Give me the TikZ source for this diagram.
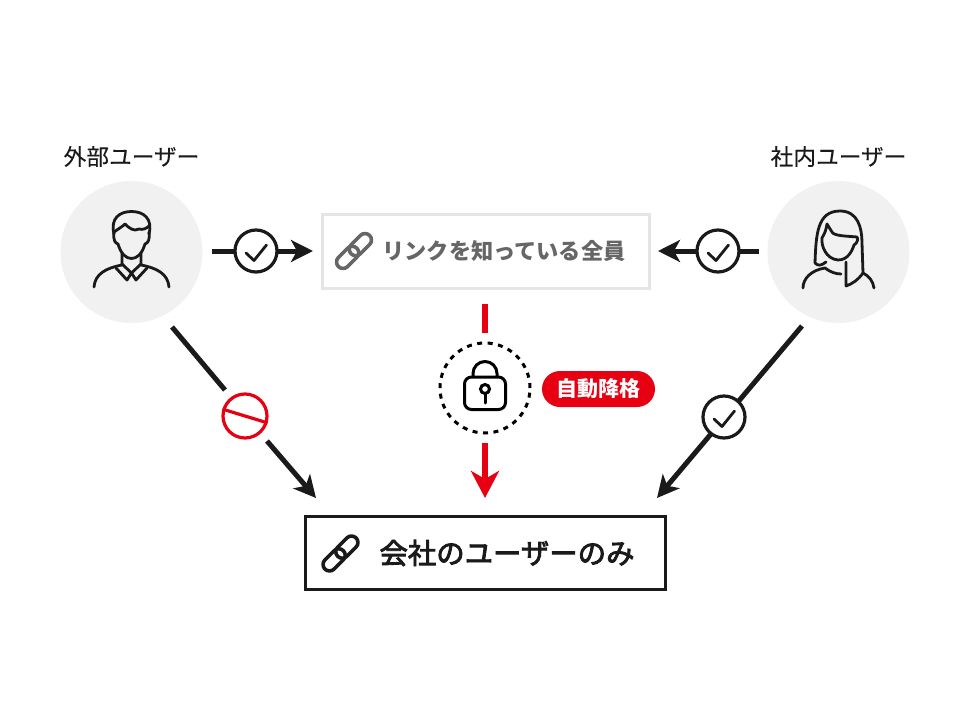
\documentclass[tikz,border=0pt]{standalone}
\usepackage{fontspec}
\setmainfont{Noto Sans CJK JP}
\newfontfamily\semifont[FakeBold=3]{Noto Sans CJK JP}
\newfontfamily\labelfont[FakeBold=0.12]{Noto Sans CJK JP}
\usetikzlibrary{arrows.meta}
\definecolor{inkblack}{HTML}{1A1A1A}
\definecolor{alertred}{HTML}{E60012}
\definecolor{softgray}{HTML}{F1F1F1}
\definecolor{boxgray}{HTML}{E5E5E5}
\definecolor{textgray}{HTML}{666666}
\tikzset{
  usercircle/.style={circle, fill=softgray, minimum size=142pt, inner sep=0pt},
  userlabel/.style={font=\fontsize{22.7}{27}\labelfont, text=inkblack, inner sep=0pt},
  okcircle/.style={circle, draw=inkblack, fill=white, line width=3.2pt, minimum size=42pt, inner sep=0pt},
  blackline/.style={draw=inkblack, line width=5pt},
  blackarrow/.style={blackline, -{Stealth[length=22pt, width=22pt, inset=6pt]}},
  redline/.style={draw=alertred, line width=6pt},
  redarrow/.style={redline, -{Stealth[length=27pt, width=28pt, inset=8pt]}},
  iconline/.style={draw=inkblack, line width=2.8pt, line cap=round, line join=round},
  okmark/.pic={\draw[iconline] (-10,2) -- (-2,9.5) -- (10.5,-6);},
  linkicon/.pic={
    \begin{scope}[rotate=45, line width=3.6pt, line join=round]
      \draw[rounded corners=6.5pt] (-22,-6.5) rectangle (4,6.5);
      \draw[rounded corners=6.5pt] (-4,-6.5) rectangle (22,6.5);
    \end{scope}}
}
\begin{document}
\begin{tikzpicture}[x=1pt, y=-1pt]
\useasboundingbox (0,0) rectangle (970,728);
% users
\node[usercircle] (outcircle) at (131.5,252){};
\node[usercircle] (incircle) at (838.5,252){};
\node[userlabel] (outlabel) at (131.5,156.5){外部ユーザー};
\node[userlabel] (inlabel) at (838.5,156.5){社内ユーザー};
% outside user
\draw[iconline] (114,234) .. controls (110,218) and (120,211.5) .. (131.5,211.5) .. controls (143,211.5) and (153,218) .. (149,234);
\draw[iconline] (114,232) .. controls (118,229) and (122,227) .. (125,224) .. controls (129,228) and (134,232) .. (139,229) .. controls (142,230) and (146,229) .. (149,226);
\draw[iconline] (114,232) .. controls (113,240) and (115,243) .. (118,244) .. controls (121,254) and (126,258.5) .. (131.5,258.5) .. controls (137,258.5) and (142,254) .. (145,244) .. controls (148,243) and (150,240) .. (149,232);
\draw[iconline] (122,253) -- (122,265) .. controls (106,268) and (95,274) .. (94,287);
\draw[iconline] (141,253) -- (141,265) .. controls (157,268) and (168,274) .. (169,287);
\draw[iconline] (116,268) -- (127,280) -- (131.5,273) -- (136,280) -- (147,268);
\draw[iconline] (122,264) -- (131.5,273) -- (141,264);
% inside user
\draw[iconline] (815,263) .. controls (816,235) and (817,211) .. (840,211) .. controls (858,211) and (862,228) .. (862,243) -- (863,273) .. controls (858,280) and (852,284) .. (846,286) -- (846,262);
\draw[iconline] (815,263) .. controls (818,266) and (821,266) .. (826,262);
\draw[iconline] (827,224) .. controls (826,230) and (825,233) .. (822,238) .. controls (821,246) and (826,259) .. (838,260) .. controls (848,260) and (852,251) .. (854,245) .. controls (858,243) and (858,238) .. (857,237) .. controls (846,236) and (834,236) .. (832,232) -- (827,224);
\draw[iconline] (803,288) .. controls (803,278) and (812,270) .. (825,268) .. controls (830,272) and (836,274) .. (841,274);
\draw[iconline] (863,273) .. controls (869,276) and (873,281) .. (874,288);
% link boxes
\node[draw=boxgray, line width=3.5pt, minimum width=327pt, minimum height=74pt, inner sep=0pt] (allbox) at (486,251.5){};
\node[draw=inkblack, line width=3.8pt, minimum width=360pt, minimum height=73pt, inner sep=0pt] (onlybox) at (485.5,553){};
\pic[draw=textgray] at (354,251) {linkicon};
\pic[draw=inkblack] at (340.5,553.5) {linkicon};
\node[inner sep=0pt, text=textgray, font=\fontsize{22.2}{26}\selectfont\bfseries] (alltext) at (504,251){リンクを知っている全員};
\node[inner sep=0pt, text=inkblack, font=\fontsize{28.4}{33}\semifont] (onlytext) at (507,553){会社のユーザーのみ};
% top arrows
\coordinate (outstart) at (212,251);
\coordinate (outtip) at (313,251);
\coordinate (instart) at (759,251);
\coordinate (intip) at (658,251);
\draw[blackarrow] (outstart) -- (outtip);
\draw[blackarrow] (instart) -- (intip);
\node[okcircle] (outok) at (256,251){};
\node[okcircle] (inok) at (718,251){};
\pic at (outok) {okmark};
\pic at (inok) {okmark};
% left diagonal
\node[circle, draw=alertred, line width=3.2pt, minimum size=44pt, inner sep=0pt] (nogo) at (245,416){};
\coordinate (nogostart) at (172,327);
\coordinate (nogoend) at (225,390);
\coordinate (nogonext) at (267,441);
\coordinate (nogotip) at (316,498);
\draw[blackline] (nogostart) -- (nogoend);
\draw[blackarrow] (nogonext) -- (nogotip);
\draw[draw=alertred, line width=3.2pt] (nogo.163) -- (nogo.-17);
% right diagonal
\coordinate (okstart) at (802,326);
\coordinate (oktip) at (657,498);
\draw[blackarrow] (okstart) -- (oktip);
\node[okcircle] (sideok) at (724,417){};
\pic at (sideok) {okmark};
% lock
\node[circle, draw=black, line width=3pt, dash pattern=on 5pt off 5.5pt, minimum size=90pt, inner sep=0pt] (lockcircle) at (485,388){};
\coordinate (redstart) at (485,304);
\coordinate (redend) at (485,333);
\coordinate (rednext) at (485,443);
\coordinate (redtip) at (485,498);
\draw[redline] (redstart) -- (redend);
\draw[redarrow] (rednext) -- (redtip);
\draw[draw=black, line width=3pt, rounded corners=7pt] (464.5,377) rectangle (505.5,409.5);
\draw[draw=black, line width=3pt] (473,377) -- (473,373.5) arc[start angle=180, end angle=360, radius=12] -- (497,377);
\draw[draw=black, line width=3pt] (485,389) circle[radius=4.5];
\draw[draw=black, line width=3pt, line cap=round] (485,394) -- (485,403);
% badge
\node[fill=alertred, rounded corners=18pt, minimum width=113pt, minimum height=36pt, inner sep=0pt, text=white, font=\fontsize{21}{24}\selectfont\bfseries] (autobadge) at (598.5,389){自動降格};
\end{tikzpicture}
\end{document}
